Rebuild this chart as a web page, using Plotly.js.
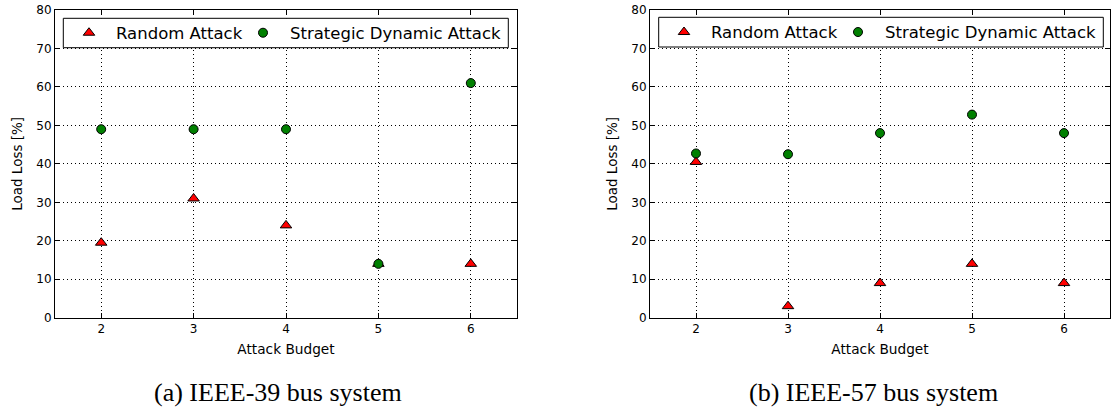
<!DOCTYPE html>
<html>
<head>
<meta charset="utf-8">
<script src="https://cdn.plot.ly/plotly-3.0.1.min.js"></script>
<style>
  html, body { margin: 0; padding: 0; background: #fff; }
  #chart { width: 1111px; height: 409px; }
</style>
</head>
<body>
<div id="chart"></div>
<script>
// Attack budgets on the x axis
const budgets = [2, 3, 4, 5, 6];

// IEEE-39 bus system: load loss [%]
const ieee39Random = [19.5, 31, 24, 14, 14];
const ieee39Strategic = [49, 49, 49, 14, 61];

// IEEE-57 bus system: load loss [%]
const ieee57Random = [40.5, 3, 9, 14, 9];
const ieee57Strategic = [42.7, 42.5, 48, 52.8, 48];

const yTicks = [0, 10, 20, 30, 40, 50, 60, 70, 80];
const captions = ['(a) IEEE-39 bus system', '(b) IEEE-57 bus system'];
const seriesNames = ['Random Attack', 'Strategic Dynamic Attack'];

const W = 1111, H = 409;
const px = v => v / W;
const py = v => 1 - v / H;

const sans = 'DejaVu Sans, sans-serif';
const serif = 'Liberation Serif, Times New Roman, serif';

function randomTrace(y, xa, ya, legendId) {
  return {
    x: budgets, y: y, xaxis: xa, yaxis: ya,
    type: 'scatter', mode: 'markers', name: seriesNames[0],
    legend: legendId, showlegend: true,
    marker: { symbol: 'triangle-up', size: 10, color: '#ff0000',
              line: { color: '#000', width: 1 } }
  };
}
function strategicTrace(y, xa, ya, legendId) {
  return {
    x: budgets, y: y, xaxis: xa, yaxis: ya,
    type: 'scatter', mode: 'markers', name: seriesNames[1],
    legend: legendId, showlegend: true,
    marker: { symbol: 'circle', size: 9, color: '#008000',
              line: { color: '#000', width: 1 } }
  };
}

const data = [
  randomTrace(ieee39Random, 'x', 'y', 'legend'),
  strategicTrace(ieee39Strategic, 'x', 'y', 'legend2'),
  randomTrace(ieee57Random, 'x2', 'y2', 'legend3'),
  strategicTrace(ieee57Strategic, 'x2', 'y2', 'legend4')
];

function xAxis(domain, anchor) {
  return {
    domain: domain, anchor: anchor, range: [1.5, 6.5], automargin: false,
    tickvals: budgets, ticktext: budgets.map(String),
    ticks: 'inside', ticklen: 5, tickwidth: 1, tickcolor: '#000',
    showline: true, linecolor: '#000', linewidth: 1, mirror: 'ticks',
    showgrid: true, gridcolor: '#000', gridwidth: 1, griddash: '1px,3px',
    zeroline: false,
    tickfont: { family: sans, size: 12, color: '#000' },
    title: { text: 'Attack Budget', font: { family: sans, size: 13.7, color: '#000' }, standoff: 9 }
  };
}
function yAxis(domain, anchor) {
  return {
    domain: domain, anchor: anchor, range: [0, 80], automargin: false,
    tickvals: yTicks, ticktext: yTicks.map(String),
    ticks: 'inside', ticklen: 5, tickwidth: 1, tickcolor: '#000',
    showline: true, linecolor: '#000', linewidth: 1, mirror: 'ticks',
    showgrid: true, gridcolor: '#000', gridwidth: 1, griddash: '1px,3px',
    zeroline: false,
    tickfont: { family: sans, size: 12, color: '#000' },
    title: { text: 'Load Loss [%]', font: { family: sans, size: 13.5, color: '#000' }, standoff: 10 }
  };
}

const yDom = [py(317.7), py(10)];

// one legend entry, no frame of its own (the frame is a shape)
function legendEntry(x, yMid) {
  return {
    orientation: 'h', x: px(x), y: py(yMid), xanchor: 'left', yanchor: 'middle',
    bgcolor: 'rgba(0,0,0,0)', borderwidth: 0,
    font: { family: sans, size: 16.5, color: '#000' },
    itemwidth: 44
  };
}

function legendFrame(x0, x1, y0, y1) {
  return {
    type: 'rect', xref: 'paper', yref: 'paper', layer: 'above',
    x0: px(x0), x1: px(x1), y0: py(y1), y1: py(y0),
    fillcolor: '#fff', line: { color: '#000', width: 1 }
  };
}

const layout = {
  width: W, height: H,
  margin: { l: 0, r: 0, t: 0, b: 0 },
  paper_bgcolor: '#fff', plot_bgcolor: '#fff',
  showlegend: true,
  xaxis: xAxis([px(55), px(517)], 'y'),
  yaxis: yAxis(yDom, 'x'),
  xaxis2: xAxis([px(650), px(1110)], 'y2'),
  yaxis2: yAxis(yDom, 'x2'),
  legend: legendEntry(62, 33),
  legend2: legendEntry(236, 33),
  legend3: legendEntry(657, 32.3),
  legend4: legendEntry(831, 32.3),
  shapes: [
    legendFrame(63.3, 508.3, 18.3, 47.7),
    legendFrame(658.7, 1103.3, 17.3, 47)
  ],
  annotations: [
    { text: captions[0], xref: 'paper', yref: 'paper', x: px(278), y: py(392),
      xanchor: 'center', yanchor: 'middle', showarrow: false,
      font: { family: serif, size: 26, color: '#000' } },
    { text: captions[1], xref: 'paper', yref: 'paper', x: px(873), y: py(392),
      xanchor: 'center', yanchor: 'middle', showarrow: false,
      font: { family: serif, size: 26, color: '#000' } }
  ]
};

Plotly.newPlot('chart', data, layout, { staticPlot: true, displayModeBar: false });
</script>
</body>
</html>
